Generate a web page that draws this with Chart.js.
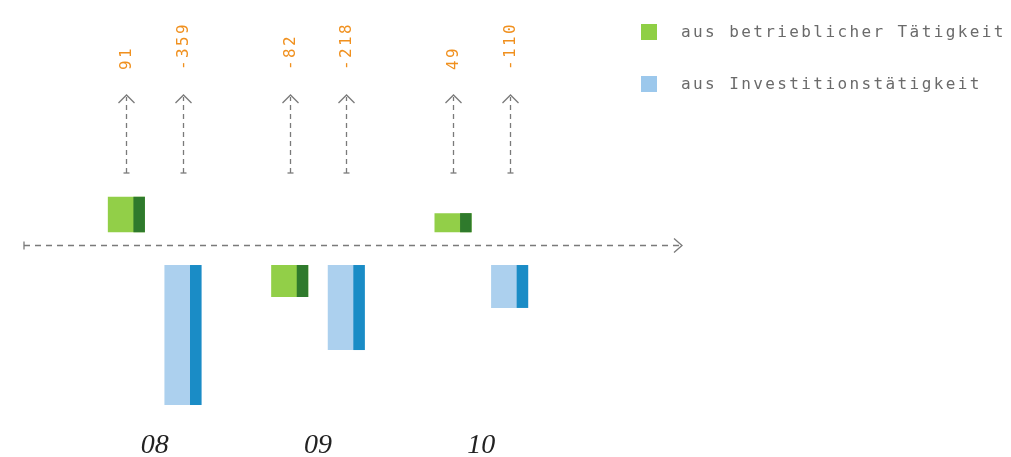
<!DOCTYPE html>
<html>
<head>
<meta charset="utf-8">
<script src="https://cdn.jsdelivr.net/npm/chart.js@4.4.1/dist/chart.umd.min.js"></script>
<style>
  html, body { margin: 0; padding: 0; background: #ffffff; }
  #wrap { position: relative; width: 1011px; height: 457px; overflow: hidden; }
  canvas { position: absolute; left: 0; top: 0; }
  .leg { position: absolute; left: 641px; font-family: "DejaVu Sans Mono", monospace; font-size: 16px; letter-spacing: 2.4px; color: #6a6a6a; white-space: nowrap; }
  .leg span.sw { position: absolute; left: 0; top: 0; width: 16px; height: 16px; }
  .leg span.tx { position: absolute; left: 40px; top: -2px; }
</style>
</head>
<body>
<div id="wrap">
  <canvas id="c" width="1011" height="457"></canvas>
  <div class="leg" id="leg0" style="top:24px;"><span class="sw" style="background:#8fcf45;"></span><span class="tx"></span></div>
  <div class="leg" id="leg1" style="top:76px;"><span class="sw" style="background:#9cc8ec;"></span><span class="tx"></span></div>
</div>
<script>
// ---- data ----
const categories = ['08', '09', '10'];
const seriesNames = ['aus betrieblicher Tätigkeit', 'aus Investitionstätigkeit'];
const operating = [91, -82, 49];
const investing = [-359, -218, -110];

// ---- style constants ----
const GAP_UP = 33;    // visual gap between axis and positive bars (data units)
const GAP_DOWN = 51;  // visual gap between axis and negative bars (data units)
const faceColors = ['#92cf48', '#acd0ee'];
const sideColors = ['#2f7a2c', '#1a8cc6'];

function floating(values) {
  return values.map(v => v >= 0 ? [GAP_UP, GAP_UP + v] : [-GAP_DOWN, -GAP_DOWN + v]);
}

document.querySelector('#leg0 .tx').textContent = seriesNames[0];
document.querySelector('#leg1 .tx').textContent = seriesNames[1];

const rawSeries = [operating, investing];

const decor = {
  id: 'decor',
  afterDatasetsDraw(chart) {
    const ctx = chart.ctx;
    const yScale = chart.scales.y;
    // 3D side strips
    chart.data.datasets.forEach((ds, di) => {
      const meta = chart.getDatasetMeta(di);
      meta.data.forEach(el => {
        const p = el.getProps(['x', 'y', 'base', 'width'], true);
        const right = p.x + p.width / 2;
        const sw = p.width * 0.31;
        const top = Math.min(p.y, p.base), bot = Math.max(p.y, p.base);
        ctx.save();
        ctx.fillStyle = sideColors[di];
        ctx.fillRect(right - sw, top, sw, bot - top);
        ctx.restore();
      });
    });
    // zero axis arrow
    const y0 = Math.round(yScale.getPixelForValue(0)) + 0.5;
    ctx.save();
    ctx.strokeStyle = '#7a7a7a';
    ctx.lineWidth = 1.3;
    ctx.setLineDash([6, 5]);
    ctx.beginPath(); ctx.moveTo(24, y0); ctx.lineTo(680, y0); ctx.stroke();
    ctx.setLineDash([]);
    ctx.beginPath(); ctx.moveTo(24, y0 - 4); ctx.lineTo(24, y0 + 4); ctx.stroke();
    ctx.beginPath(); ctx.moveTo(674, y0 - 7); ctx.lineTo(682, y0); ctx.lineTo(674, y0 + 7); ctx.stroke();
    ctx.restore();

    // arrows and value labels above each bar
    chart.data.datasets.forEach((ds, di) => {
      const meta = chart.getDatasetMeta(di);
      meta.data.forEach((el, i) => {
        const x = Math.round(el.x) + 0.5;
        ctx.save();
        ctx.strokeStyle = '#7a7a7a';
        ctx.lineWidth = 1.3;
        ctx.setLineDash([5, 4]);
        ctx.beginPath(); ctx.moveTo(x, 173); ctx.lineTo(x, 97); ctx.stroke();
        ctx.setLineDash([]);
        ctx.beginPath(); ctx.moveTo(x - 3, 173); ctx.lineTo(x + 3, 173); ctx.stroke();
        ctx.beginPath(); ctx.moveTo(x - 8, 103); ctx.lineTo(x, 95); ctx.lineTo(x + 8, 103); ctx.stroke();
        // rotated value label
        ctx.translate(x, 70);
        ctx.rotate(-Math.PI / 2);
        ctx.fillStyle = '#f0901e';
        ctx.font = '16px "DejaVu Sans Mono", monospace';
        ctx.letterSpacing = '2.4px';
        ctx.textAlign = 'left';
        ctx.textBaseline = 'middle';
        ctx.fillText(String(rawSeries[di][i]), 0, 0);
        ctx.restore();
      });
    });
  }
};

new Chart(document.getElementById('c'), {
  type: 'bar',
  data: {
    labels: categories,
    datasets: [
      { label: seriesNames[0], data: floating(operating), backgroundColor: faceColors[0], borderWidth: 0 },
      { label: seriesNames[1], data: floating(investing), backgroundColor: faceColors[1], borderWidth: 0 }
    ]
  },
  options: {
    responsive: false,
    animation: false,
    layout: { padding: { left: 73, right: 448, top: 10, bottom: 0 } },
    plugins: { legend: { display: false }, tooltip: { enabled: false } },
    datasets: { bar: { categoryPercentage: 0.693, barPercentage: 0.655 } },
    scales: {
      x: {
        grid: { display: false, drawTicks: false },
        border: { display: false },
        afterFit(scale) { scale.height = 36; },
        ticks: {
          color: '#222',
          padding: 0,
          font: { family: '"Liberation Serif", serif', style: 'italic', size: 28, weight: 'normal', lineHeight: '50px' }
        }
      },
      y: { display: false, min: -451, max: 603 }
    }
  },
  plugins: [decor]
});
</script>
</body>
</html>
